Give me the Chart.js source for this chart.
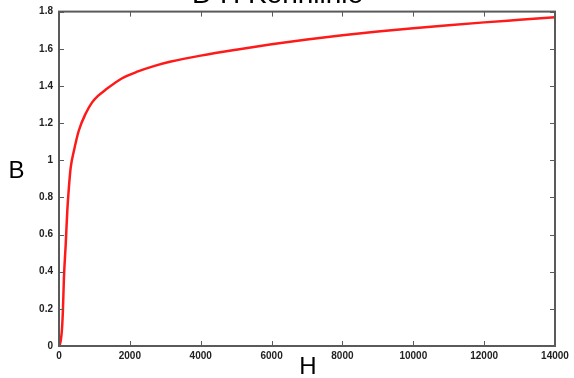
<!DOCTYPE html>
<html>
<head>
<meta charset="utf-8">
<script src="https://cdn.jsdelivr.net/npm/chart.js@4.4.1/dist/chart.umd.min.js"></script>
<style>
    html, body { margin: 0; padding: 0; background: #fff; }
    #wrap { position: relative; width: 574px; height: 378px; overflow: hidden; }
    #wrap canvas { position: absolute; left: 0; top: -22px; }
</style>
</head>
<body>
<div id="wrap"><canvas id="chartBH" width="574" height="400"></canvas></div>
<script>
// H in A/m, B in T
const feldstaerke = [0, 40, 80, 110, 140, 190, 235, 280, 330, 420, 560, 750, 930, 1100, 1300, 1770, 2230, 2700, 3160, 4000, 5000, 6000, 7000, 8000, 9000, 10000, 11000, 12000, 13000, 14000];
const flussdichte = [0, 0.02, 0.08, 0.19, 0.37, 0.55, 0.73, 0.855, 0.96, 1.05, 1.16, 1.25, 1.31, 1.346, 1.377, 1.44, 1.478, 1.508, 1.531, 1.563, 1.595, 1.624, 1.65, 1.673, 1.693, 1.711, 1.727, 1.742, 1.756, 1.77];
const xTicks = [0, 2000, 4000, 6000, 8000, 10000, 12000, 14000];
const yTicks = [0, 0.2, 0.4, 0.6, 0.8, 1, 1.2, 1.4, 1.6, 1.8];

const puntos = feldstaerke.map((h, i) => ({ x: h, y: flussdichte[i] }));

// frame, inward ticks on all four sides and the upright B / H labels
const rahmen = {
    id: 'rahmen',
    afterDraw(chart) {
        const ctx = chart.ctx;
        const a = chart.chartArea;
        const sx = chart.scales.x;
        const sy = chart.scales.y;
        ctx.save();
        ctx.strokeStyle = '#5a5a5a';
        ctx.lineWidth = 2;
        ctx.strokeRect(a.left, a.top, a.right - a.left, a.bottom - a.top);
        ctx.lineWidth = 1;
        ctx.beginPath();
        xTicks.forEach(v => {
            const px = Math.round(sx.getPixelForValue(v)) + 0.5;
            ctx.moveTo(px, a.bottom); ctx.lineTo(px, a.bottom - 5);
            ctx.moveTo(px, a.top); ctx.lineTo(px, a.top + 5);
        });
        yTicks.forEach(v => {
            const py = Math.round(sy.getPixelForValue(v)) + 0.5;
            ctx.moveTo(a.left, py); ctx.lineTo(a.left + 5, py);
            ctx.moveTo(a.right, py); ctx.lineTo(a.right - 5, py);
        });
        ctx.stroke();
        ctx.fillStyle = '#000';
        ctx.font = '24px "Liberation Sans", Arial, sans-serif';
        ctx.textAlign = 'center';
        ctx.textBaseline = 'middle';
        ctx.fillText('B', 16.5, (a.top + a.bottom) / 2 - 7);
        ctx.fillText('H', (a.left + a.right) / 2 + 1, a.bottom + 21);
        ctx.restore();
    }
};

new Chart(document.getElementById('chartBH'), {
    type: 'line',
    data: {
        datasets: [{
            data: puntos,
            borderColor: '#ff1a1a',
            borderWidth: 2.5,
            pointRadius: 0,
            cubicInterpolationMode: 'monotone',
            fill: false
        }]
    },
    options: {
        responsive: false,
        animation: false,
        layout: { padding: { left: 0, right: 19, top: 0, bottom: 0 } },
        plugins: {
            legend: { display: false },
            tooltip: { enabled: false },
            title: {
                display: true,
                text: 'B-H Kennlinie',
                color: '#000',
                font: { family: '"Liberation Sans", Arial, sans-serif', size: 28, weight: 'normal' },
                padding: { top: 0, bottom: 0 }
            }
        },
        scales: {
            x: {
                type: 'linear',
                min: 0,
                max: 14000,
                afterFit: s => { s.height = 32; },
                afterBuildTicks: s => { s.ticks = xTicks.map(v => ({ value: v })); },
                grid: { display: false, drawTicks: false },
                border: { display: false },
                ticks: {
                    padding: 4,
                    maxRotation: 0,
                    color: '#222',
                    font: { family: '"Liberation Sans", Arial, sans-serif', size: 10, weight: 'bold' },
                    callback: v => String(v)
                }
            },
            y: {
                min: 0,
                max: 1.8,
                afterFit: s => { s.width = 59; },
                afterBuildTicks: s => { s.ticks = yTicks.map(v => ({ value: v })); },
                grid: { display: false, drawTicks: false },
                border: { display: false },
                ticks: {
                    padding: 6,
                    color: '#222',
                    font: { family: '"Liberation Sans", Arial, sans-serif', size: 10, weight: 'bold' },
                    callback: v => String(+v.toFixed(1))
                }
            }
        }
    },
    plugins: [rahmen]
});
</script>
</body>
</html>
